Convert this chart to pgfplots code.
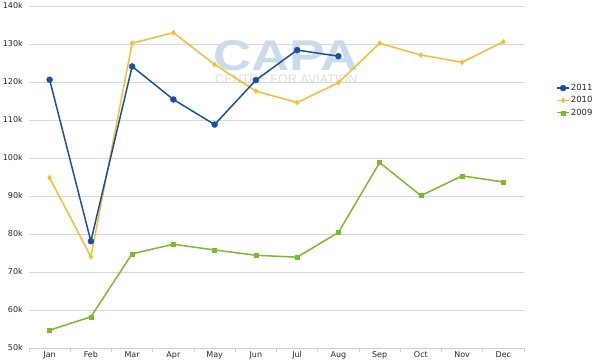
\documentclass[border=0pt]{standalone}
\usepackage{pgfplots}
\pgfplotsset{compat=1.18}
\usepackage{fontspec}
\setmainfont{DejaVu Sans}
\newfontfamily\wmfont{Liberation Sans}
\definecolor{cblue}{RGB}{24,82,158}
\definecolor{corange}{RGB}{246,190,48}
\definecolor{cgreen}{RGB}{124,187,44}
\definecolor{gridc}{RGB}{216,216,216}
\definecolor{axisc}{RGB}{196,210,228}
\definecolor{wmblue}{RGB}{202,219,236}
\definecolor{wmgray}{RGB}{222,222,222}
\definecolor{txt}{RGB}{40,40,40}
\begin{document}
\begin{tikzpicture}[x=1pt,y=1pt]
\path[use as bounding box] (0,0) rectangle (600,362);
\node[anchor=base west, inner sep=0pt, text=wmblue, font=\wmfont\bfseries\fontsize{43}{43}\selectfont] at (213,291) {\scalebox{1.23}[1]{CAPA}};
\node[anchor=base west, inner sep=0pt, text=wmgray, font=\wmfont\fontsize{12.6}{13}\selectfont] at (215,278.5) {CENTRE FOR AVIATION};
\begin{axis}[
  at={(29pt,14pt)}, anchor=south west,
  width=495pt, height=342pt, scale only axis,
  xmin=-0.5, xmax=11.5, ymin=50, ymax=140,
  xtick={0,...,11},
  xticklabels={Jan,Feb,Mar,Apr,May,Jun,Jul,Aug,Sep,Oct,Nov,Dec},
  ytick={50,60,...,140},
  yticklabels={50k,60k,70k,80k,90k,100k,110k,120k,130k,140k},
  minor xtick={-0.5,0.5,...,11.5},
  major tick length=0pt,
  minor tick length=4pt,
  tick align=outside,
  minor tick style={color=axisc, line width=0.8pt},
  axis x line*=bottom,
  axis y line*=left,
  y axis line style={draw=none},
  x axis line style={draw=axisc, line width=1pt},
  ymajorgrids,
  major grid style={draw=gridc, line width=1pt},
  tick label style={font=\fontsize{8}{9}\selectfont, text=txt},
  /pgf/number format/assume math mode=true,
  yticklabel style={anchor=east, inner sep=0pt, xshift=-6pt},
  xticklabel style={anchor=north, inner sep=0pt, yshift=-3pt},
  legend style={at={(rel axis cs:1.065,0.775)}, anchor=north west, draw=none, fill=none,
    font=\fontsize{8.5}{9}\selectfont, text=txt, inner sep=0pt, row sep=2.5pt,
    nodes={inner sep=1pt}},
  legend cell align=left,
  reverse legend,
  legend image code/.code={\draw[mark repeat=2,mark phase=2] plot coordinates {(0pt,0pt) (6pt,0pt) (12pt,0pt)};},
]
\addplot[cgreen, line width=1.5pt, mark=square*, mark size=2pt, mark options={solid, line width=0.3pt, draw=cgreen, fill=cgreen}]
coordinates {(0,54.7) (1,58.2) (2,74.8) (3,77.3) (4,75.8) (5,74.4) (6,73.9) (7,80.4) (8,98.8) (9,90.1) (10,95.3) (11,93.7)};
\addplot[corange, line width=1.5pt, mark=diamond*, mark size=2.6pt, mark options={solid, line width=0.3pt, draw=corange, fill=corange}]
coordinates {(0,94.8) (1,74.0) (2,130.2) (3,133.0) (4,124.6) (5,117.6) (6,114.6) (7,119.8) (8,130.2) (9,127.1) (10,125.2) (11,130.6)};
\addplot[cblue, line width=1.5pt, mark=*, mark size=3pt, mark options={solid, line width=0.4pt, draw=cblue, fill=cblue}]
coordinates {(0,120.6) (1,78.1) (2,124.1) (3,115.4) (4,108.8) (5,120.5) (6,128.4) (7,126.8)};
\legend{2009,2010,2011}
\end{axis}
\end{tikzpicture}
\end{document}
